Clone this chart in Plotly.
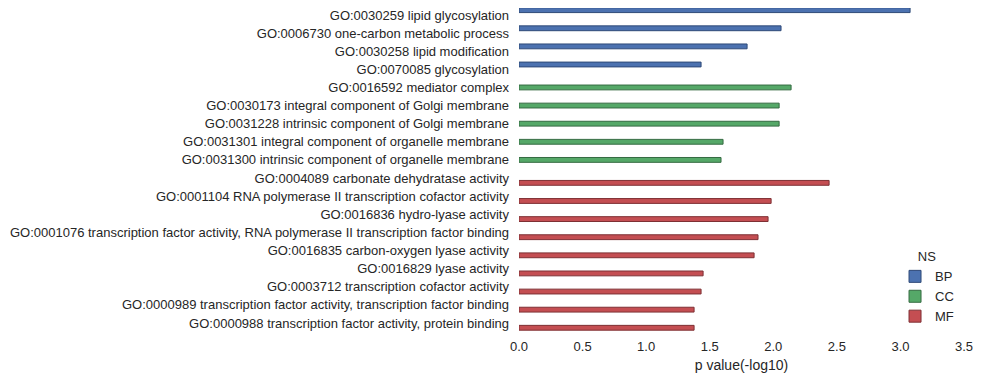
import plotly.graph_objects as go

categories = [
    "GO:0030259 lipid glycosylation",
    "GO:0006730 one-carbon metabolic process",
    "GO:0030258 lipid modification",
    "GO:0070085 glycosylation",
    "GO:0016592 mediator complex",
    "GO:0030173 integral component of Golgi membrane",
    "GO:0031228 intrinsic component of Golgi membrane",
    "GO:0031301 integral component of organelle membrane",
    "GO:0031300 intrinsic component of organelle membrane",
    "GO:0004089 carbonate dehydratase activity",
    "GO:0001104 RNA polymerase II transcription cofactor activity",
    "GO:0016836 hydro-lyase activity",
    "GO:0001076 transcription factor activity, RNA polymerase II transcription factor binding",
    "GO:0016835 carbon-oxygen lyase activity",
    "GO:0016829 lyase activity",
    "GO:0003712 transcription cofactor activity",
    "GO:0000989 transcription factor activity, transcription factor binding",
    "GO:0000988 transcription factor activity, protein binding",
]
ns = ["BP"] * 4 + ["CC"] * 5 + ["MF"] * 9
pvalues = [3.076, 2.061, 1.794, 1.432,
           2.140, 2.046, 2.046, 1.605, 1.589,
           2.439, 1.983, 1.959, 1.880, 1.849, 1.448, 1.432, 1.377, 1.377]

groups = ["BP", "CC", "MF"]
colors = {"BP": "#4C72B0", "CC": "#55A868", "MF": "#C44E52"}
edges = {"BP": "#2f4a78", "CC": "#356b42", "MF": "#7e3034"}

# seaborn-style dodge: total width 0.8 split into 3 hue slots
slot = 0.8 / len(groups)

fig = go.Figure()
for i, g in enumerate(groups):
    ys = [c for c, n in zip(categories, ns) if n == g]
    xs = [v for v, n in zip(pvalues, ns) if n == g]
    fig.add_trace(go.Bar(
        x=xs, y=ys, name=g, orientation="h",
        width=slot, offset=-0.4 + i * slot,
        marker=dict(color=colors[g], line=dict(color=edges[g], width=1)),
    ))

font = "Liberation Sans, Arial, sans-serif"
# page body has an 8px default margin, so the figure is 8px smaller than the window
fig.update_layout(
    width=973, height=371,
    barmode="overlay",
    plot_bgcolor="white", paper_bgcolor="white",
    margin=dict(l=511, r=17, t=0, b=47),
    font=dict(family=font, size=13, color="#262626"),
    xaxis=dict(range=[0, 3.5], dtick=0.5, tickformat=".1f", automargin=False,
               showgrid=False, zeroline=False, showline=False,
               ticklabelstandoff=5,
               title=dict(text="p value(-log10)", font=dict(size=14), standoff=7),
               tickfont=dict(size=13)),
    yaxis=dict(categoryorder="array", categoryarray=categories,
               range=[17.5, -0.386], showgrid=False, zeroline=False, automargin=False,
               showline=False, ticklabelstandoff=9, tickfont=dict(size=13)),
    legend=dict(x=0.845, y=0.27, xanchor="left", yanchor="top",
                title=dict(text="NS", side="top center", font=dict(size=13)),
                bgcolor="rgba(0,0,0,0)", tracegroupgap=0,
                font=dict(size=13)),
)

fig.write_html("out.html")
